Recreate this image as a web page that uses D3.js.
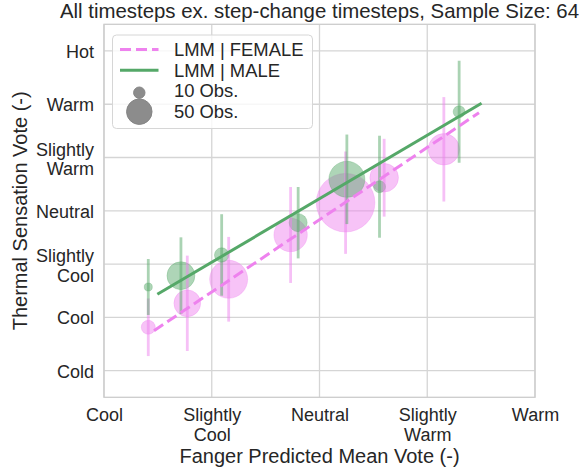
<!DOCTYPE html>
<html>
<head>
<meta charset="utf-8">
<script src="https://cdn.jsdelivr.net/npm/d3@7/dist/d3.min.js"></script>
<style>
  html, body { margin: 0; padding: 0; background: #fff; }
  svg { display: block; }
  text { font-family: "Liberation Sans", Arial, sans-serif; fill: #262626; }
</style>
</head>
<body>
<svg id="chart" width="579" height="476"></svg>
<script>
// ---------------- data ----------------
const titleText = "All timesteps ex. step-change timesteps, Sample Size: 64";
const xLabelText = "Fanger Predicted Mean Vote (-)";
const yLabelText = "Thermal Sensation Vote (-)";

const xTicks = [-2, -1, 0, 1, 2];
const xTickLabels = ["Cool", "Slightly\nCool", "Neutral", "Slightly\nWarm", "Warm"];
const yTicks = [-3, -2, -1, 0, 1, 2, 3];
const yTickLabels = ["Cold", "Cool", "Slightly\nCool", "Neutral", "Slightly\nWarm", "Warm", "Hot"];

// Female binned means
const femalePMV = [-1.589, -1.227, -0.843, -0.268, 0.242, 0.600, 1.154];
const femaleTSV = [-2.186, -1.736, -1.285, -0.454, 0.152, 0.621, 1.154];
const femaleErr = [0.54, 0.895, 0.795, 0.90, 0.96, 0.73, 0.98];
const femaleN   = [15, 55, 111, 86, 265, 63, 76];

// Male binned means
const malePMV = [-1.589, -1.286, -0.908, -0.198, 0.254, 0.557, 1.296];
const maleTSV = [-1.43, -1.218, -0.829, -0.223, 0.591, 0.452, 1.859];
const maleErr = [0.525, 0.72, 0.765, 0.67, 0.84, 0.957, 0.957];
const maleN   = [5, 60, 16, 25, 100, 11, 11];

// LMM fitted lines (endpoints)
const femaleLineX = [-1.536, 1.48];
const femaleLineY = [-2.25, 1.84];
const maleLineX = [-1.505, 1.504];
const maleLineY = [-1.567, 2.017];

const legendSizes = [10, 50];
const legendLabels = ["LMM | FEMALE", "LMM | MALE", "10 Obs.", "50 Obs."];

// ---------------- drawing ----------------
const svg = d3.select("#chart");
const plot = { left: 104, right: 535, top: 24.3, bottom: 397.3 };

const x = d3.scaleLinear().domain([-2, 2]).range([plot.left, plot.right]);
const y = d3.scaleLinear().domain([-3.5, 3.5]).range([plot.bottom, plot.top]);
const r = d3.scaleSqrt().domain([0, 100]).range([0, 18]);

const femaleColor = "#ee82ee";
const maleColor = "#55a868";
const gridColor = "#d5d5d5";

// grid
const grid = svg.append("g");
grid.selectAll("line.vx").data(xTicks).join("line")
  .attr("x1", d => x(d)).attr("x2", d => x(d))
  .attr("y1", plot.top).attr("y2", plot.bottom)
  .attr("stroke", gridColor).attr("stroke-width", 1.3);
grid.selectAll("line.hy").data(yTicks).join("line")
  .attr("x1", plot.left).attr("x2", plot.right)
  .attr("y1", d => y(d)).attr("y2", d => y(d))
  .attr("stroke", gridColor).attr("stroke-width", 1.3);

// spines
svg.append("rect")
  .attr("x", plot.left).attr("y", plot.top)
  .attr("width", plot.right - plot.left).attr("height", plot.bottom - plot.top)
  .attr("fill", "none").attr("stroke", "#cccccc").attr("stroke-width", 1.3);

// x axis via d3 axis
const xAxis = d3.axisBottom(x).tickValues(xTicks).tickSize(0).tickPadding(0).tickFormat(() => "");
const xg = svg.append("g").attr("transform", `translate(0,${plot.bottom})`).call(xAxis);
xg.select(".domain").remove();
xg.selectAll(".tick").each(function(d, i) {
  const t = d3.select(this).append("text")
    .attr("text-anchor", "middle").style("font-size", "18px");
  xTickLabels[i].split("\n").forEach((line, j) => {
    t.append("tspan").attr("x", 0).attr("y", 23.3 + j * 20.6).text(line);
  });
});

// y axis via d3 axis
const yAxis = d3.axisLeft(y).tickValues(yTicks).tickSize(0).tickPadding(0).tickFormat(() => "");
const yg = svg.append("g").attr("transform", `translate(${plot.left},0)`).call(yAxis);
yg.select(".domain").remove();
yg.selectAll(".tick").each(function(d, i) {
  const lines = yTickLabels[i].split("\n");
  const t = d3.select(this).append("text")
    .attr("text-anchor", "end").style("font-size", "18px");
  const L = 19.5;
  const first = lines.length === 1 ? 6.5 : -2.5;
  lines.forEach((line, j) => {
    t.append("tspan").attr("x", -10).attr("y", first + j * L).text(line);
  });
});

// error bars
function errorBars(px, py, pe, color) {
  svg.append("g").selectAll("line").data(px).join("line")
    .attr("x1", d => x(d)).attr("x2", d => x(d))
    .attr("y1", (d, i) => y(py[i] - pe[i])).attr("y2", (d, i) => y(py[i] + pe[i]))
    .attr("stroke", color).attr("stroke-opacity", 0.5).attr("stroke-width", 2.8);
}
function points(px, py, pn, color) {
  svg.append("g").selectAll("circle").data(px).join("circle")
    .attr("cx", d => x(d)).attr("cy", (d, i) => y(py[i]))
    .attr("r", (d, i) => r(pn[i]))
    .attr("fill", color).attr("fill-opacity", 0.48)
    .attr("stroke", color).attr("stroke-opacity", 0.3).attr("stroke-width", 1);
}
points(femalePMV, femaleTSV, femaleN, femaleColor);
points(malePMV, maleTSV, maleN, maleColor);
errorBars(femalePMV, femaleTSV, femaleErr, femaleColor);
errorBars(malePMV, maleTSV, maleErr, maleColor);

// LMM lines
const lineGen = d3.line().x(d => x(d[0])).y(d => y(d[1]));
svg.append("path")
  .attr("d", lineGen(femaleLineX.map((v, i) => [v, femaleLineY[i]])))
  .attr("fill", "none").attr("stroke", femaleColor).attr("stroke-width", 3)
  .attr("stroke-dasharray", "11,5");
svg.append("path")
  .attr("d", lineGen(maleLineX.map((v, i) => [v, maleLineY[i]])))
  .attr("fill", "none").attr("stroke", maleColor).attr("stroke-width", 3);

// legend
const lg = svg.append("g");
lg.append("rect")
  .attr("x", 112.5).attr("y", 35).attr("width", 200).attr("height", 93.5)
  .attr("rx", 4).attr("fill", "#fff").attr("fill-opacity", 0.8)
  .attr("stroke", "#d6d6d6").attr("stroke-width", 1);
const rowBase = [56, 76.7, 97.3, 118.3];
const rowMid = [49.5, 70.3, 92.7, 111.7];
lg.append("line").attr("x1", 120).attr("x2", 158.5).attr("y1", rowMid[0]).attr("y2", rowMid[0])
  .attr("stroke", femaleColor).attr("stroke-width", 3).attr("stroke-dasharray", "11,5");
lg.append("line").attr("x1", 120).attr("x2", 158.5).attr("y1", rowMid[1]).attr("y2", rowMid[1])
  .attr("stroke", maleColor).attr("stroke-width", 3);
legendSizes.forEach((n, i) => {
  lg.append("circle").attr("cx", 139.3).attr("cy", rowMid[2 + i]).attr("r", r(n))
    .attr("fill", "#8c8c8c").attr("stroke", "#858585").attr("stroke-width", 1);
});
legendLabels.forEach((s, i) => {
  lg.append("text").attr("x", 174).attr("y", rowBase[i]).style("font-size", "18.4px").text(s);
});

// title & axis labels
svg.append("text").attr("x", (plot.left + plot.right) / 2).attr("y", 17.5)
  .attr("text-anchor", "middle").style("font-size", "20.4px").text(titleText);
svg.append("text").attr("x", (plot.left + plot.right) / 2).attr("y", 463.3)
  .attr("text-anchor", "middle").style("font-size", "20px").text(xLabelText);
svg.append("text")
  .attr("transform", `translate(27,${(plot.top + plot.bottom) / 2}) rotate(-90)`)
  .attr("text-anchor", "middle").style("font-size", "20px").text(yLabelText);
</script>
</body>
</html>
